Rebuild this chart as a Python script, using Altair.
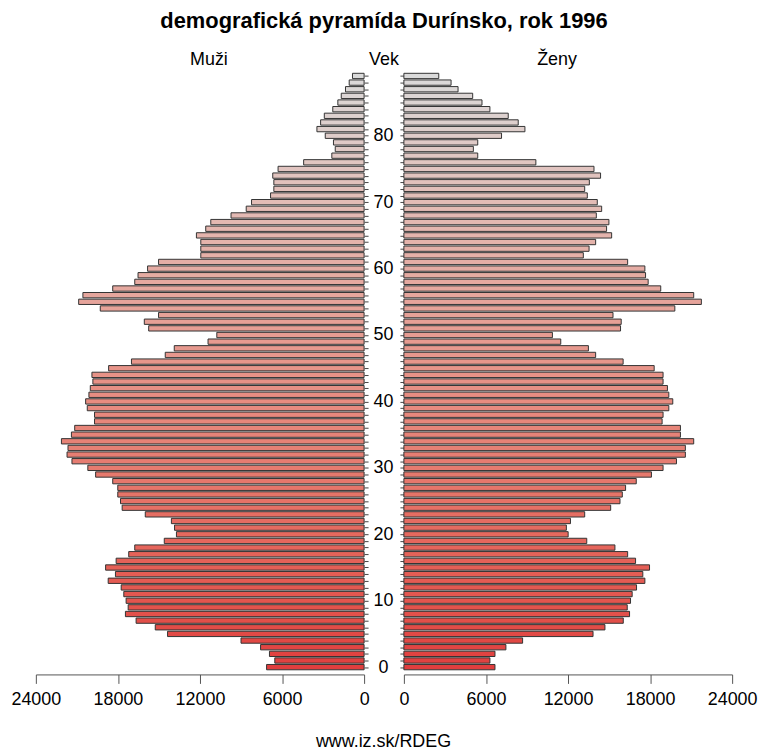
import altair as alt
import pandas as pd

ages = list(range(90))
male = [7130, 6530, 6920, 7570, 9000, 14370, 15270, 16670, 17450, 17250,
        17400, 17570, 17760, 18710, 18180, 18900, 18130, 17210, 16770, 14610,
        13720, 13860, 14090, 16000, 17690, 17810, 18010, 18010, 18380, 19630,
        20200, 21360, 21720, 21650, 22130, 21400, 21160, 19710, 19710, 20240,
        20360, 20120, 20020, 19830, 19900, 18680, 17010, 14540, 13880, 11410,
        10770, 15750, 16070, 15030, 19290, 20870, 20560, 18380, 16770, 16530,
        15830, 15030, 11940, 11940, 11940, 12260, 11580, 11210, 9730, 8620,
        8230, 6840, 6600, 6600, 6680, 6290, 4420, 2360, 2110, 2240,
        2840, 3450, 3180, 2910, 2290, 1920, 1670, 1360, 1090, 850]
female = [6660, 6290, 6660, 7460, 8680, 13830, 14700, 16040, 16500, 16330,
          16570, 16690, 17010, 17620, 17470, 17960, 16940, 16360, 15430, 13370,
          12010, 11880, 12180, 13220, 15120, 15800, 15970, 16210, 16990, 18100,
          18950, 19930, 20580, 20580, 21190, 20220, 20220, 18880, 18950, 19370,
          19660, 19370, 19270, 18950, 18950, 18300, 16030, 14020, 13490, 11470,
          10860, 15840, 15890, 15290, 19810, 21750, 21190, 18780, 17860, 17670,
          17620, 16360, 13120, 13540, 14020, 15190, 14820, 14990, 14070, 14460,
          14140, 13410, 13220, 13560, 14380, 13900, 9650, 5400, 5080, 5400,
          7140, 8850, 8360, 7630, 6290, 5710, 5030, 3960, 3450, 2550]
x_ticks = [0, 6000, 12000, 18000, 24000]
title_text = "demografická pyramída Durínsko, rok 1996"
left_label = "Muži"
mid_label = "Vek"
right_label = "Ženy"
footer = "www.iz.sk/RDEG"

df = pd.DataFrame({"age": ages, "male": male, "female": female})

FONT = "Liberation Sans"
FS = 18
W, H = 330, 601

color = alt.Color("age:Q", scale=alt.Scale(domain=[0, 89], range=["#e03e3e", "#dadada"]), legend=None)
yscale = alt.Scale(domain=[-0.5, 89.5], nice=False, zero=False)

xaxis_common = dict(values=x_ticks, format="d", grid=False, offset=4, tickSize=9,
                    labelFontSize=FS, labelPadding=7, labelFont=FONT, labelColor="#000",
                    labelFlush=False, domainColor="#555", tickColor="#555")

base = alt.Chart(df).transform_calculate(lo="datum.age - 0.4", hi="datum.age + 0.4")


def label(txt, xpos):
    return alt.Chart(pd.DataFrame({"t": [txt]})).mark_text(
        font=FONT, fontSize=FS, color="#000", align="center", baseline="middle"
    ).encode(text="t:N", x=alt.value(xpos), y=alt.value(-13))


left_bars = base.mark_rect(stroke="#333333", strokeWidth=1).encode(
    x=alt.X("male:Q",
            scale=alt.Scale(domain=[0, 24000], reverse=True, nice=False),
            axis=alt.Axis(**xaxis_common,
                          title=footer, titleFont=FONT, titleFontSize=FS,
                          titleFontWeight="normal", titleX=349, titleY=67,
                          titleAlign="center", titleBaseline="middle", titleColor="#000")),
    x2=alt.datum(0),
    y=alt.Y("lo:Q", scale=yscale,
            axis=alt.Axis(orient="right", values=ages, grid=False, domain=False, tickSize=4,
                          tickColor="#444",
                          labelExpr="datum.value % 10 == 0 ? datum.value : ''",
                          labelAlign="center", labelPadding=15, labelFontSize=FS,
                          labelFont=FONT, labelColor="#000", labelBaseline="middle",
                          title=None)),
    y2="hi:Q",
    color=color,
)

left = alt.layer(left_bars, label(left_label, 174), label(mid_label, W + 20)).properties(
    width=W, height=H)

right_bars = base.mark_rect(stroke="#333333", strokeWidth=1).encode(
    x=alt.X("female:Q",
            scale=alt.Scale(domain=[0, 24000], nice=False),
            axis=alt.Axis(**xaxis_common, title=None)),
    x2=alt.datum(0),
    y=alt.Y("lo:Q", scale=yscale,
            axis=alt.Axis(orient="left", values=ages, grid=False, domain=False, tickSize=4,
                          tickColor="#444", labels=False, title=None)),
    y2="hi:Q",
    color=color,
)

right = alt.layer(right_bars, label(right_label, 154)).properties(width=W, height=H)

chart = alt.hconcat(left, right, spacing=40, bounds="flush").resolve_scale(
    x="independent", y="shared"
).properties(
    title=alt.TitleParams(title_text, font=FONT, fontSize=22, fontWeight="bold",
                          anchor="middle", offset=18, color="#000"),
    padding={"left": 2, "top": 0, "right": 0, "bottom": 0},
).configure_view(stroke=None)

chart.save("out.html", embed_options={"renderer": "svg", "actions": False})
